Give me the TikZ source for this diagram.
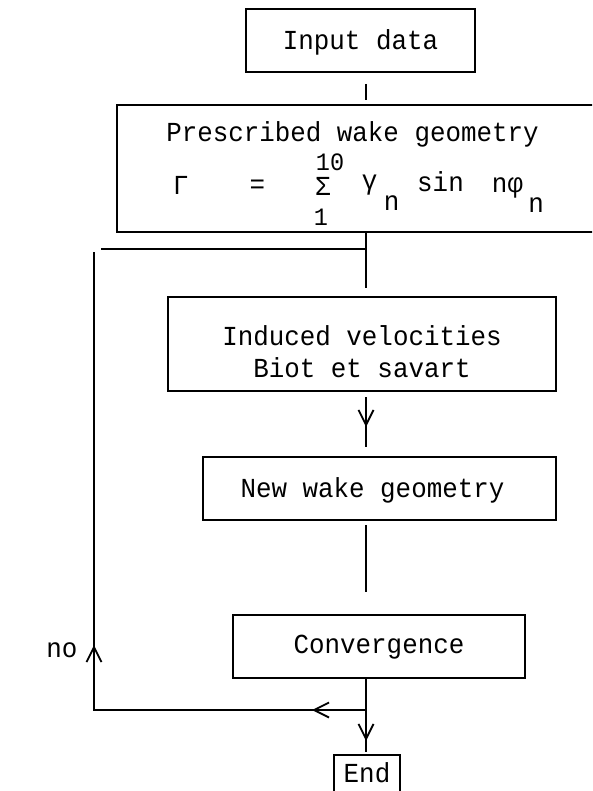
\documentclass[tikz,border=0pt]{standalone}
\usepackage{fontspec}
\newfontfamily\plotfont[FakeStretch=0.94]{Liberation Mono}
\usetikzlibrary{arrows.meta,decorations.markings}
\tikzset{
  vtip/.tip={Straight Barb[length=15pt,width=15pt,line width=1.8pt]},
  txt/.style={font=\plotfont\fontsize{27.5}{32}\selectfont, inner sep=0pt},
  limit/.style={font=\plotfont\fontsize{25}{30}\selectfont, inner sep=0pt},
  stepbox/.style={txt, draw, line width=2pt, rectangle},
  boxline/.style={line width=2pt},
  link/.style={line width=1.7pt},
  along/.style={postaction={decorate},
    decoration={markings, mark=at position #1 with {\arrow{vtip}}}}
}
\begin{document}
\begin{tikzpicture}[x=1pt,y=-1pt]
\useasboundingbox (0,0) rectangle (592,791);
\clip (0,0) rectangle (592,791);

% spine of the flow chart and the right rim of the page
\coordinate (spine) at (366,0);
\coordinate (rim) at (600,0);

% boxes
\node[stepbox, minimum width=229, minimum height=63,
      text height=19pt, text depth=0pt] (inp) at (360.5,40.5) {Input data};

\node[txt, minimum width=471, minimum height=127,
      text height=2pt, text depth=55pt] (pres) at (352.5,168.5)
      {Prescribed wake geometry};
\draw[boxline] (pres.north east -| rim) -- (pres.north west)
               -- (pres.south west) -- (pres.south east -| rim);

\node[stepbox, minimum width=388, minimum height=94,
      text height=2pt, text depth=0pt] (ind) at (362,344)
      {\parbox[t]{340pt}{\centering Induced velocities\\Biot et savart}};

\node[stepbox, minimum width=353, minimum height=63,
      text height=17pt, text depth=0pt] (new) at (379.5,488.5)
      {New wake geometry\hspace*{14pt}};

\node[stepbox, minimum width=292, minimum height=63,
      text height=13pt, text depth=0pt] (conv) at (379,646.5) {Convergence};

\node[stepbox, minimum width=66, minimum height=50,
      text height=4pt, text depth=0pt] (fin) at (367,780) {End};

% circulation series inside the wake geometry box
\node[txt, anchor=base] (gam)  at (181,195)   {Γ};
\node[txt, anchor=base] (eq)   at (257.5,194) {=};
\node[txt, anchor=base] (sig)  at (323,196)   {Σ};
\node[limit, anchor=base] (upr) at (330,171)  {10};
\node[limit, anchor=base] (lwr) at (321,226)  {1};
\node[txt, anchor=base] (gn)   at (369.5,190) {γ};
\node[txt, anchor=base] (gsub) at (391.5,211) {n};
\node[txt, anchor=base] (sine) at (440.5,192) {sin};
\node[txt, anchor=base] (nphi) at (507.5,193) {nφ};
\node[txt, anchor=base] (psub) at (536,213)   {n};

% loop label
\node[txt, anchor=base] (no) at (62,657) {no};

% connector ends
\coordinate (t1) at (366,84);
\coordinate (t2) at (366,100);
\coordinate (c1) at (366,288);
\coordinate (c2) at (366,397);
\coordinate (c3) at (366,447);
\coordinate (c4) at (366,525);
\coordinate (c5) at (366,592);
\coordinate (c6) at (366,752);
\coordinate (j1) at (366,249);
\coordinate (j2) at (366,710);
\coordinate (bl) at (94,710);
\coordinate (c7) at (94,252);
\coordinate (c8) at (101,249);

% main flow
\draw[link] (t1) -- (t2);
\draw[link] (pres.south -| spine) -- (c1);
\draw[link, along=30pt] (c2) -- (c3);
\draw[link] (c4) -- (c5);
\draw[link, along=62pt] (conv.south -| spine) -- (c6);

% iteration loop back to the top
\draw[link, postaction={decorate},
      decoration={markings,
        mark=at position 54pt with {\arrow{vtip}},
        mark=at position 337pt with {\arrow{vtip}}}]
  (j2) -- (bl) -- (c7);
\draw[link] (c8) -- (j1);
\end{tikzpicture}
\end{document}
